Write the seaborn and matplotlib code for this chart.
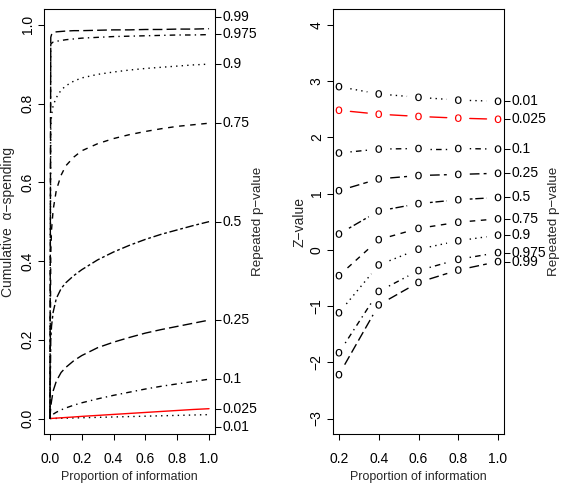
import numpy as np
import pandas as pd
import matplotlib
matplotlib.use("Agg")
import matplotlib.pyplot as plt
import seaborn as sns

# ---------------- data ----------------
levels = ["0.01", "0.025", "0.1", "0.25", "0.5", "0.75", "0.9", "0.975", "0.99"]

# left panel: cumulative alpha-spending curves vs proportion of information
t_info = [0, 0.005, 0.01, 0.02, 0.04, 0.07, 0.1, 0.15, 0.2, 0.3, 0.4, 0.5, 0.6, 0.7, 0.8, 0.9, 1.0]
spend_0_01 = [0, 0.0001, 0.0001, 0.0002, 0.0004, 0.0007, 0.001, 0.0015, 0.002, 0.003, 0.004, 0.005, 0.006, 0.007, 0.008, 0.009, 0.01]
spend_0_025 = [0, 0.0002, 0.0003, 0.0006, 0.0011, 0.0019, 0.0027, 0.004, 0.0055, 0.008, 0.0105, 0.013, 0.0155, 0.018, 0.0205, 0.023, 0.025]
spend_0_1 = [0, 0.005, 0.007, 0.011, 0.016, 0.022, 0.027, 0.034, 0.040, 0.050, 0.059, 0.067, 0.075, 0.082, 0.088, 0.094, 0.1]
spend_0_25 = [0, 0.03, 0.045, 0.07, 0.095, 0.117, 0.13, 0.147, 0.16, 0.18, 0.194, 0.206, 0.217, 0.226, 0.234, 0.242, 0.25]
spend_0_5 = [0, 0.20, 0.235, 0.27, 0.305, 0.33, 0.345, 0.363, 0.378, 0.403, 0.423, 0.44, 0.455, 0.468, 0.479, 0.49, 0.5]
spend_0_75 = [0, 0.42, 0.48, 0.53, 0.58, 0.618, 0.642, 0.664, 0.68, 0.698, 0.711, 0.721, 0.729, 0.736, 0.742, 0.746, 0.75]
spend_0_9 = [0, 0.74, 0.77, 0.795, 0.815, 0.834, 0.845, 0.857, 0.865, 0.874, 0.88, 0.885, 0.889, 0.892, 0.895, 0.898, 0.9]
spend_0_975 = [0, 0.950, 0.953, 0.956, 0.958, 0.960, 0.962, 0.964, 0.966, 0.968, 0.970, 0.971, 0.972, 0.973, 0.974, 0.974, 0.975]
spend_0_99 = [0, 0.968, 0.975, 0.979, 0.982, 0.983, 0.984, 0.985, 0.985, 0.986, 0.987, 0.987, 0.988, 0.988, 0.989, 0.989, 0.99]
spend_curves = [spend_0_01, spend_0_025, spend_0_1, spend_0_25, spend_0_5,
                spend_0_75, spend_0_9, spend_0_975, spend_0_99]
# right-axis label positions of the left panel (spread apart where crowded)
left_label_pos = [-0.021, 0.025, 0.1, 0.25, 0.5, 0.75, 0.9, 0.976, 1.02]

# right panel: Z-values at each analysis
t_analysis = [0.2, 0.4, 0.6, 0.8, 1.0]
z_0_01 = [2.90, 2.77, 2.71, 2.66, 2.64]
z_0_025 = [2.48, 2.41, 2.37, 2.34, 2.32]
z_0_1 = [1.72, 1.79, 1.80, 1.80, 1.79]
z_0_25 = [1.05, 1.26, 1.32, 1.34, 1.36]
z_0_5 = [0.28, 0.69, 0.82, 0.89, 0.93]
z_0_75 = [-0.46, 0.18, 0.38, 0.49, 0.55]
z_0_9 = [-1.12, -0.27, 0.01, 0.16, 0.26]
z_0_975 = [-1.83, -0.74, -0.37, -0.17, -0.05]
z_0_99 = [-2.22, -0.98, -0.58, -0.36, -0.21]
z_curves = [z_0_01, z_0_025, z_0_1, z_0_25, z_0_5, z_0_75, z_0_9, z_0_975, z_0_99]

# ---------------- style ----------------
sns.set_theme(style="ticks")
plt.rcParams['font.family'] = ['Liberation Sans', 'DejaVu Sans']
plt.rcParams['axes.edgecolor'] = 'black'
plt.rcParams['axes.linewidth'] = 0.75
plt.rcParams['xtick.color'] = 'black'
plt.rcParams['ytick.color'] = 'black'

palette = {lv: ('#FF0000' if lv == "0.025" else 'black') for lv in levels}
dashes = {"0.01": (1, 3), "0.025": "", "0.1": (1, 3, 4, 3), "0.25": (7, 3),
          "0.5": (2, 2, 6, 2), "0.75": (4, 4), "0.9": (1, 3),
          "0.975": (1, 3, 4, 3), "0.99": (7, 3)}
LW = 1.0

W, H = 564, 488
fig = plt.figure(figsize=(W / 100, H / 100), dpi=100)
ax1 = fig.add_axes([43.6 / W, (H - 434.3) / H, 171.8 / W, 425.3 / H])
ax2 = fig.add_axes([332.6 / W, (H - 434.3) / H, 171.8 / W, 425.3 / H])

TICK_FS = 10
LAB_FS = 8.9
RLAB_FS = 9.6

# ---------------- left panel ----------------
df_left = pd.DataFrame({
    "t": np.tile(t_info, len(levels)),
    "spend": np.concatenate(spend_curves),
    "level": np.repeat(levels, len(t_info)),
})
sns.lineplot(data=df_left, x="t", y="spend", hue="level", style="level",
             palette=palette, dashes=dashes, linewidth=LW, estimator=None,
             sort=False, legend=False, ax=ax1)
ax1.set_xlim(-0.04, 1.04)
ax1.set_ylim(-0.04, 1.04)
xt = [0, 0.2, 0.4, 0.6, 0.8, 1.0]
ax1.set_xticks(xt)
ax1.set_xticklabels([f"{v:.1f}" for v in xt], fontsize=TICK_FS)
ax1.set_yticks(xt)
ax1.set_yticklabels([f"{v:.1f}" for v in xt], fontsize=TICK_FS, rotation=90, va='center')
ax1.set_xlabel("Proportion of information", fontsize=LAB_FS, va='center')
ax1.xaxis.set_label_coords(0.5, -0.0999)
ax1.set_ylabel("Cumulative  \u03b1\u2212spending", fontsize=TICK_FS, va='center', ha='center')
ax1.yaxis.set_label_coords((8 - 43.6) / 171.8, 0.5)
ax1.tick_params(axis='x', length=4.1, width=0.75, pad=9)
ax1.tick_params(axis='y', length=4.1, width=0.75, pad=2.2)

ax1r = ax1.twinx()
ax1r.set_ylim(ax1.get_ylim())
ax1r.set_yticks(left_label_pos)
ax1r.set_yticklabels(levels, fontsize=TICK_FS, va='center')
ax1r.tick_params(axis='y', length=4.1, width=0.75, pad=1.0)
ax1r.set_ylabel("Repeated p\u2212value", fontsize=RLAB_FS, va='center', ha='center')
ax1r.yaxis.set_label_coords((258.3 - 43.6) / 171.8, 0.5)

# ---------------- right panel ----------------
df_right = pd.DataFrame({
    "t": np.tile(t_analysis, len(levels)),
    "z": np.concatenate(z_curves),
    "level": np.repeat(levels, len(t_analysis)),
})
ax2.set_xlim(0.168, 1.032)
ax2.set_ylim(-3.28, 4.28)
sns.scatterplot(data=df_right, x="t", y="z", hue="level", palette=palette,
                marker=r"$\mathsf{o}$", s=30, linewidth=0, legend=False, ax=ax2)

# connecting segments with gaps around the points (type = "b")
GAP = 11.5  # pixels
inv = ax2.transData.inverted()
for lv, zc in zip(levels, z_curves):
    pts = ax2.transData.transform(np.column_stack([t_analysis, zc]))
    for p0, p1 in zip(pts[:-1], pts[1:]):
        d = p1 - p0
        L = np.hypot(*d)
        if L <= 2 * GAP:
            continue
        u = d / L
        a = inv.transform(p0 + u * GAP)
        b = inv.transform(p1 - u * GAP)
        ln, = ax2.plot([a[0], b[0]], [a[1], b[1]], color=palette[lv], lw=LW)
        if dashes[lv]:
            ln.set_dashes(dashes[lv])

xt2 = [0.2, 0.4, 0.6, 0.8, 1.0]
ax2.set_xticks(xt2)
ax2.set_xticklabels([f"{v:.1f}" for v in xt2], fontsize=TICK_FS)
yt2 = [-3, -2, -1, 0, 1, 2, 3, 4]
ax2.set_yticks(yt2)
ax2.set_yticklabels([f"{v:d}".replace('-', '\u2212') for v in yt2], fontsize=TICK_FS,
                    rotation=90, va='center')
ax2.set_xlabel("Proportion of information", fontsize=LAB_FS, va='center')
ax2.xaxis.set_label_coords(0.5, -0.0999)
ax2.set_ylabel("Z\u2212value", fontsize=TICK_FS, va='center', ha='center')
ax2.yaxis.set_label_coords((299.7 - 332.6) / 171.8, 0.5)
ax2.tick_params(axis='x', length=4.1, width=0.75, pad=9)
ax2.tick_params(axis='y', length=4.1, width=0.75, pad=2.2)

ax2r = ax2.twinx()
ax2r.set_ylim(ax2.get_ylim())
ax2r.set_yticks([zc[-1] for zc in z_curves])
ax2r.set_yticklabels(levels, fontsize=TICK_FS, va='center')
ax2r.tick_params(axis='y', length=4.1, width=0.75, pad=1.0)
ax2r.set_ylabel("Repeated p\u2212value", fontsize=RLAB_FS, va='center', ha='center')
ax2r.yaxis.set_label_coords((553.6 - 332.6) / 171.8, 0.5)

for a in (ax1, ax2, ax1r, ax2r):
    for sp in a.spines.values():
        sp.set_visible(True)
        sp.set_color('black')
        sp.set_linewidth(0.75)

fig.savefig("out.png", dpi=100)
